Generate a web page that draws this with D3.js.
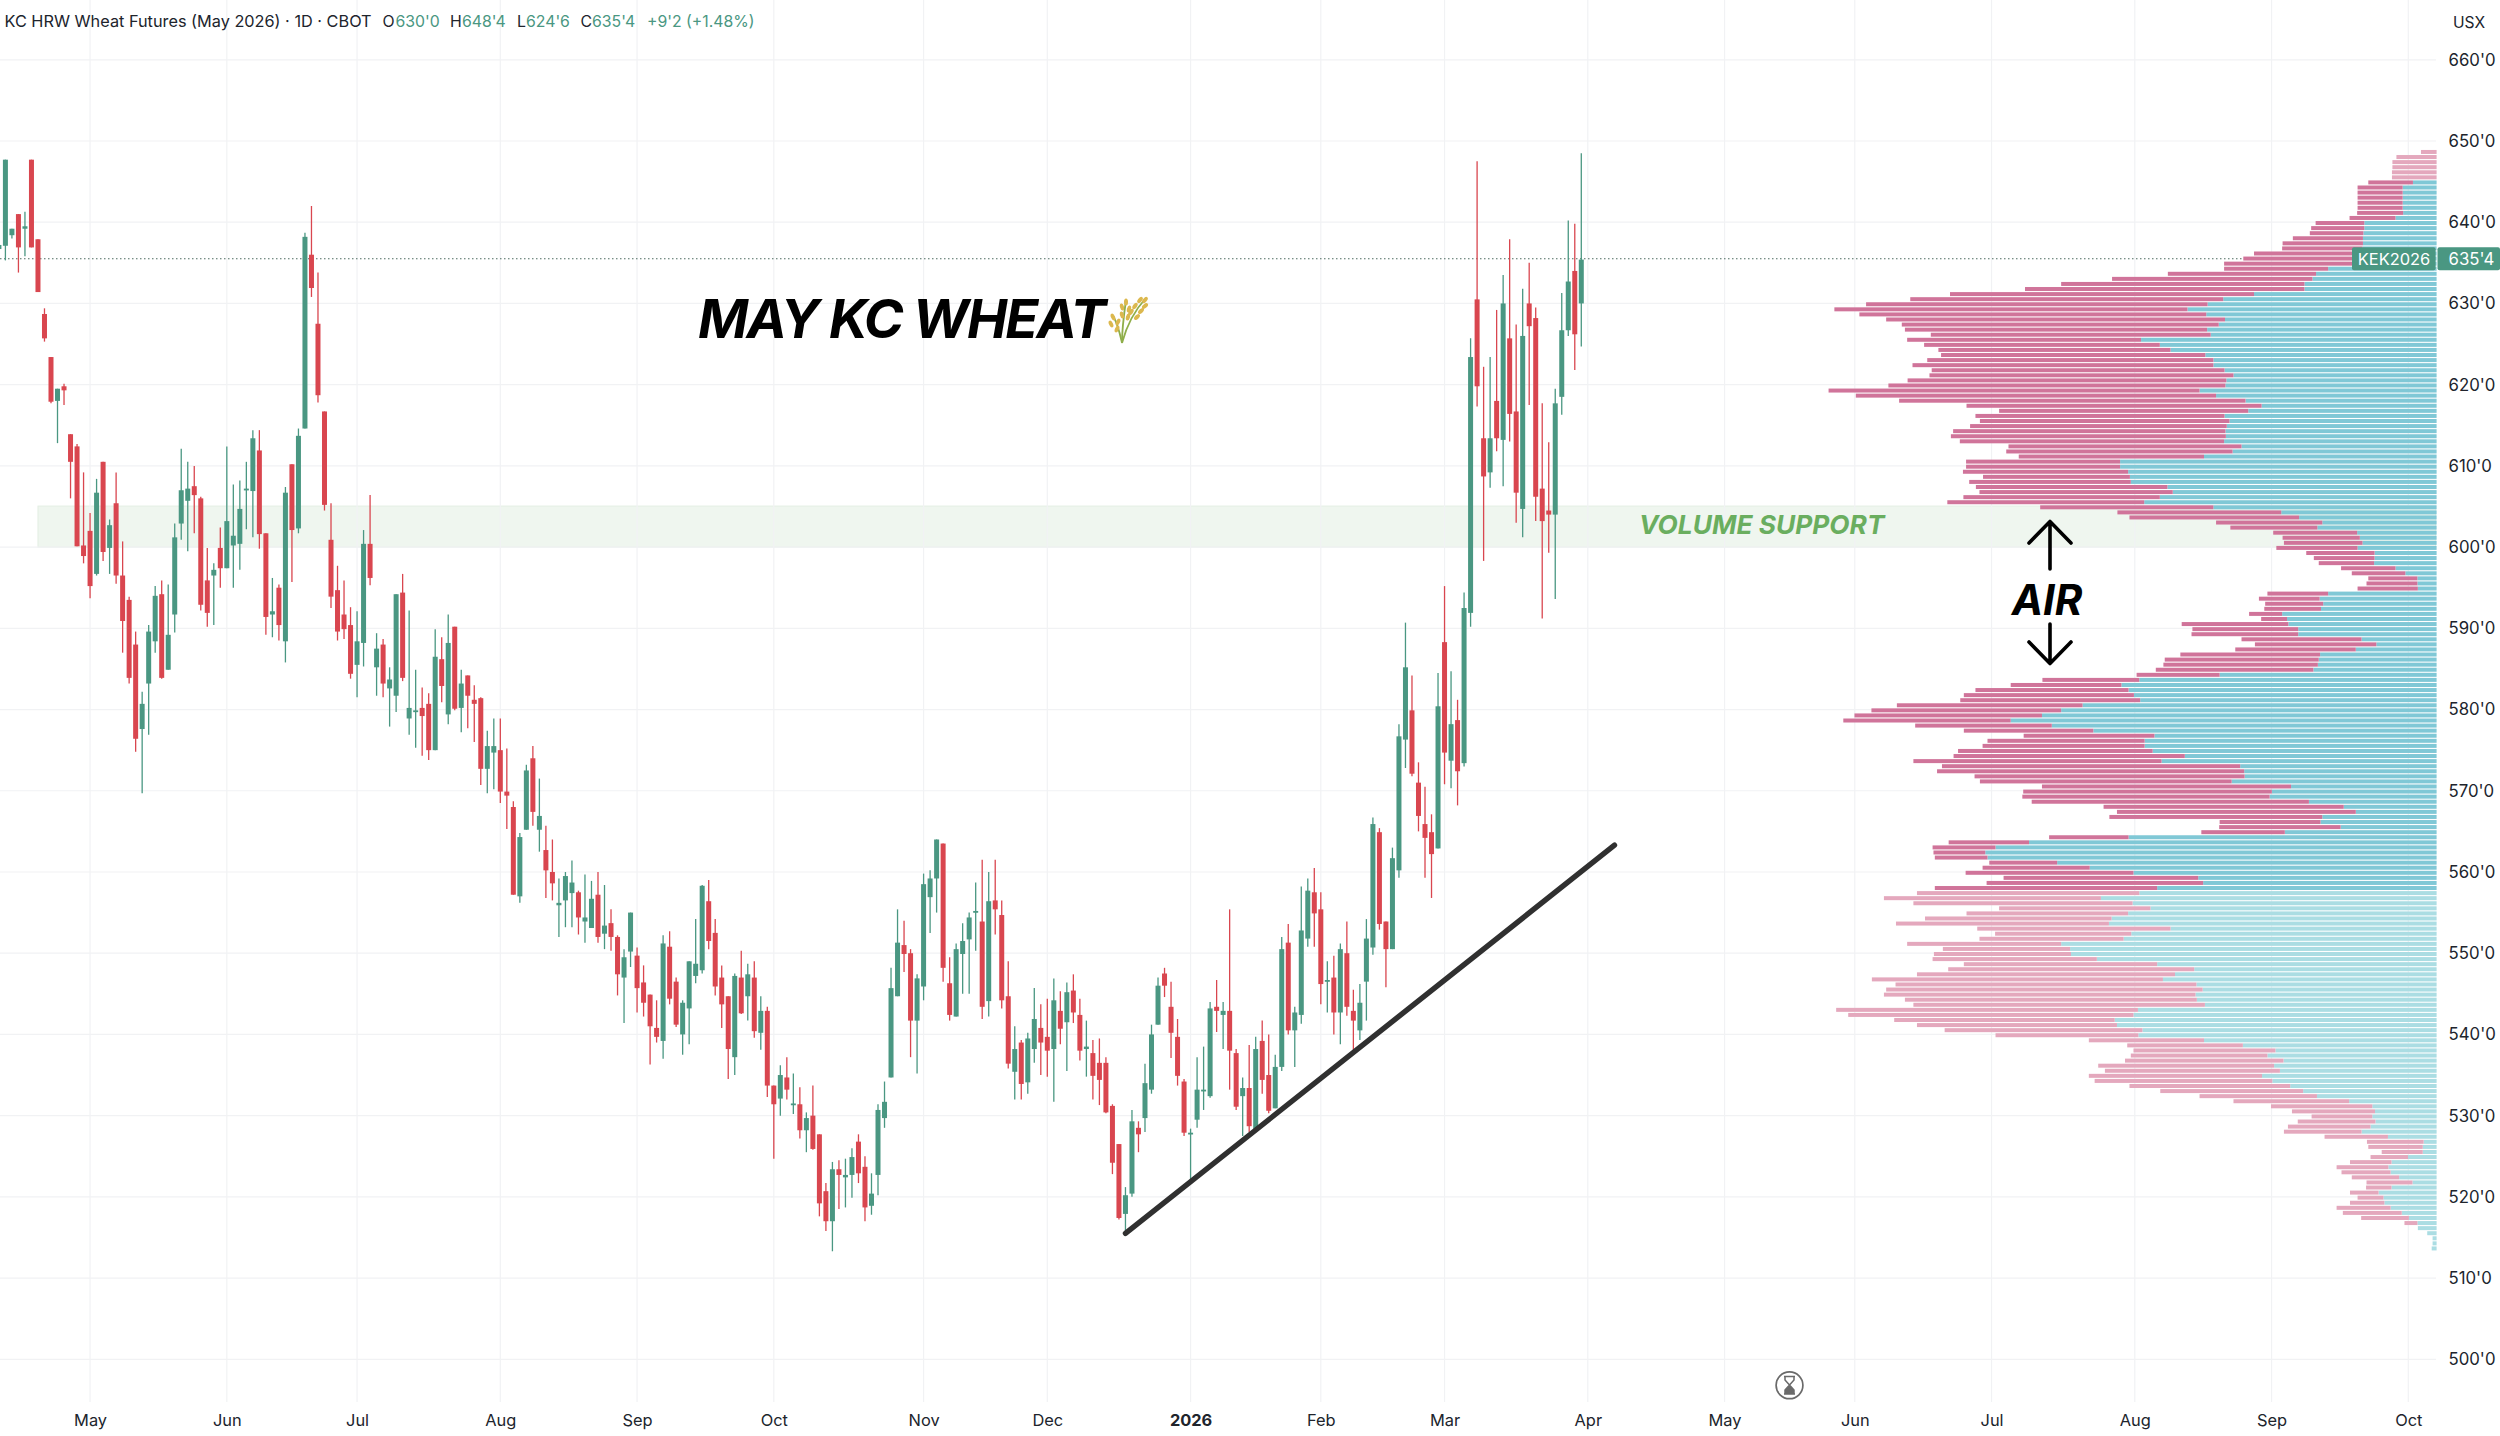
<!DOCTYPE html>
<html><head><meta charset="utf-8">
<script src="https://cdn.jsdelivr.net/npm/d3@7/dist/d3.min.js"></script>
<style>html,body{margin:0;padding:0;background:#fff}svg{display:block}text{font-family:Inter,Roboto,sans-serif}</style>
</head><body><div id="c"></div>
<script>
const opens=[636.7,637.1,638.4,641.0,639.2,647.7,637.9,628.7,623.4,618.0,619.8,613.9,612.4,600.2,602.0,596.7,610.5,599.9,605.4,596.5,593.5,588.0,577.6,583.2,588.4,594.2,584.9,591.7,602.9,605.7,607.5,606.0,595.9,596.5,599.9,597.4,600.2,600.4,607.0,606.9,611.9,601.7,591.7,595.0,588.4,610.2,602.3,614.6,636.0,627.5,
616.7,600.9,594.7,591.7,590.4,585.5,588.2,600.4,585.2,588.0,582.6,581.7,594.4,578.9,579.7,580.2,580.7,575.0,586.2,579.4,590.2,580.2,584.2,581.2,581.4,572.7,574.7,575.0,569.9,568.0,557.0,565.2,574.0,565.2,562.7,560.0,555.9,556.5,557.4,557.5,553.9,553.1,557.2,552.4,553.7,552.0,547.0,550.2,549.7,546.4,
544.9,540.8,539.2,550.8,546.5,540.0,543.2,547.2,547.9,556.4,552.5,547.0,544.7,537.2,547.0,544.7,547.0,540.2,542.9,533.7,532.1,534.7,531.4,531.4,528.2,530.0,527.7,520.7,517.0,523.4,522.4,522.7,526.8,523.7,518.9,522.7,529.7,534.7,544.7,551.0,550.0,541.7,545.9,556.9,559.2,563.5,546.3,542.2,549.9,551.7,
555.0,553.9,544.1,556.5,554.7,544.7,535.4,539.0,534.1,538.2,540.8,539.7,538.2,542.9,541.5,545.4,542.4,538.2,537.7,536.5,536.5,531.2,526.5,517.9,520.4,528.5,529.7,533.2,541.2,547.5,543.4,539.7,534.2,527.7,529.5,533.0,532.4,543.4,542.4,542.9,537.7,532.4,533.4,528.2,539.2,535.0,530.9,536.0,551.3,540.5,
542.4,551.8,557.5,555.4,546.5,547.0,542.7,550.0,542.9,540.5,546.5,550.7,564.9,553.9,550.5,560.2,576.3,579.9,571.0,565.9,564.9,562.9,588.3,573.7,578.7,573.4,591.9,630.5,613.4,609.2,618.0,613.2,625.7,616.7,604.7,630.0,628.2,607.2,604.5,604.0,618.5,626.7,634.0,630.0];
const highs=[637.3,647.7,639.2,641.0,641.3,647.7,637.9,629.4,623.4,619.5,620.1,613.9,612.7,609.2,604.2,608.4,610.5,603.4,609.2,600.7,593.9,589.6,582.2,590.4,595.2,595.9,595.4,602.9,612.1,610.5,610.0,606.2,599.9,598.0,602.4,612.4,607.7,608.2,610.5,614.4,614.4,601.7,596.2,595.4,607.4,610.2,614.6,638.7,642.0,633.8,
616.7,605.4,597.7,595.9,592.6,592.1,602.1,606.4,589.4,588.7,585.2,594.2,596.7,592.2,584.9,582.7,582.0,589.9,588.9,591.7,590.2,584.9,584.2,583.0,581.5,577.4,578.9,578.9,575.2,568.7,564.8,573.2,575.5,571.5,565.7,564.0,559.2,560.0,561.4,557.7,559.7,558.9,560.0,558.4,555.4,552.2,550.5,555.0,550.7,548.5,
544.9,544.2,552.2,552.7,547.0,544.2,549.0,554.2,558.4,559.0,554.2,548.5,544.7,547.5,550.3,548.7,549.0,544.7,543.4,533.7,536.2,537.2,535.2,533.5,530.4,533.7,527.7,521.7,524.3,524.5,524.7,526.0,527.7,525.0,522.9,531.4,534.2,548.2,555.4,554.0,550.5,547.4,559.8,560.2,564.0,563.5,549.5,551.2,553.7,555.0,
558.7,561.5,560.0,561.5,556.5,549.0,541.0,539.3,540.2,545.7,543.7,544.4,546.9,545.3,546.4,547.4,544.4,541.7,539.3,539.5,537.2,531.4,526.5,521.2,530.7,529.3,536.4,541.2,547.0,548.2,546.5,541.9,534.5,528.4,537.2,538.5,544.0,546.7,544.0,555.4,538.2,534.7,538.7,539.7,541.7,540.0,537.5,552.0,553.6,543.4,
558.2,559.2,560.5,557.5,549.0,549.7,551.2,553.9,545.5,546.2,554.2,566.7,565.4,553.9,563.0,578.2,590.7,584.2,573.5,570.5,567.1,584.5,595.2,584.7,581.2,594.4,625.7,647.5,622.2,623.4,629.2,633.5,637.9,627.4,631.8,635.0,629.5,617.7,612.9,619.5,631.3,640.2,639.8,648.5];
const lows=[636.5,635.3,638.0,633.8,635.8,636.9,631.4,625.3,617.7,612.8,617.5,606.0,600.1,598.0,593.7,596.5,598.3,596.7,595.5,587.0,583.2,574.8,569.7,576.9,587.0,583.8,584.9,589.5,600.9,599.5,601.7,592.2,590.2,590.4,595.0,597.4,595.0,597.2,602.2,601.2,599.8,589.2,588.9,588.5,585.8,595.7,601.7,614.6,630.8,617.8,
604.5,592.5,588.5,588.7,583.8,581.5,585.3,595.3,581.7,581.5,577.9,579.7,583.5,576.9,575.3,574.3,573.8,575.0,580.9,578.2,579.9,577.2,577.7,576.0,570.7,569.7,570.2,568.5,565.3,557.2,556.2,565.2,565.7,562.5,556.8,556.5,552.0,553.2,553.2,552.3,551.3,553.1,551.3,550.5,550.3,544.8,541.4,548.3,542.7,542.2,
536.3,539.0,537.0,543.7,540.9,537.5,538.8,546.3,547.5,550.5,544.8,540.8,534.5,535.0,542.5,541.7,539.6,538.1,532.3,524.7,530.0,532.0,530.2,527.2,525.5,525.8,517.6,515.8,513.3,518.5,518.7,519.9,521.7,517.0,517.8,520.2,528.5,534.7,544.7,547.7,537.2,535.2,544.2,552.5,555.0,546.5,541.7,542.2,545.0,545.0,
550.3,541.9,542.2,552.3,543.2,535.8,532.0,532.0,532.7,536.5,535.0,534.8,531.7,538.8,535.5,541.4,536.8,534.8,532.0,531.3,530.3,522.8,517.2,515.5,520.0,525.5,528.0,532.7,541.2,544.6,537.1,533.7,527.5,521.9,528.5,530.7,532.2,540.3,538.2,533.2,530.7,527.5,528.0,528.2,532.7,530.3,530.9,535.5,540.0,536.0,
541.3,550.8,550.8,543.7,542.7,540.0,538.8,542.3,537.7,539.3,541.7,549.8,552.9,545.8,550.5,559.3,572.8,571.8,565.0,559.3,556.8,562.9,570.8,570.3,568.2,573.0,590.2,617.3,598.3,607.3,611.8,607.5,613.0,603.0,601.2,617.5,603.2,591.2,599.3,593.6,616.3,626.0,621.8,624.7];
const closes=[637.2,647.7,639.2,636.9,639.5,636.9,631.4,625.7,617.9,619.5,619.3,610.5,600.1,598.9,595.2,606.7,599.4,602.7,596.5,590.9,583.9,576.4,580.7,589.6,594.0,583.9,589.2,601.2,607.0,607.2,606.4,592.9,591.9,597.2,597.4,603.2,601.4,604.7,607.2,613.4,601.6,591.4,592.1,590.4,606.7,602.1,613.7,638.2,631.9,618.7,
605.2,593.9,589.6,589.9,584.4,588.4,600.4,596.2,587.5,583.2,583.7,594.2,583.9,580.2,579.9,579.2,575.0,586.5,582.9,588.2,580.1,583.2,581.7,580.7,572.7,575.5,575.5,569.9,569.4,557.2,564.3,572.5,567.4,566.9,560.2,558.6,556.2,559.5,558.7,554.4,554.4,556.7,552.0,553.4,552.0,547.4,549.5,555.0,545.7,543.9,
541.0,539.7,551.2,544.4,541.2,543.9,549.0,548.7,558.3,551.5,545.9,543.7,538.2,547.2,542.6,547.4,540.4,542.9,533.7,531.4,535.0,533.2,531.5,528.2,529.7,525.9,519.2,517.0,523.4,522.7,522.7,524.9,522.9,518.7,520.4,530.7,531.7,545.7,551.3,549.9,541.7,546.9,558.5,559.2,564.0,548.2,542.4,550.5,551.5,554.4,
555.2,543.4,556.4,555.4,544.2,536.4,538.2,533.9,539.5,541.9,539.0,538.0,544.2,540.7,545.2,542.7,538.0,538.5,534.9,534.4,530.4,524.2,517.4,520.2,529.3,527.7,534.0,540.0,546.0,546.0,540.2,534.9,527.9,527.9,533.2,533.2,543.2,542.9,542.9,538.0,531.1,533.4,528.7,538.2,534.4,530.6,536.0,550.5,540.5,542.7,
552.8,557.7,554.9,546.2,546.7,542.7,550.5,543.4,541.7,543.9,551.8,565.9,553.6,550.5,561.7,576.7,585.2,572.1,566.9,564.2,562.2,580.4,574.7,578.2,572.4,592.5,623.4,619.8,608.7,613.4,613.4,630.0,616.4,606.7,626.0,627.2,606.2,603.2,604.0,617.7,626.7,632.7,626.2,635.4];

// volume profile: bar lengths in arbitrary units, top row first
const downVol=[35,90,99,99,100,100,100,101,101,101,101,101,103,103,109,119,120,157,180,180,223,247,290,233,332,449,545,626,681,701,765,791,777,759,710,677,627,524,528,520,592,641,674,656,681,714,755,831,807,776,661,558,558,559,575,610,616,592,522,507,415,345,345,370,329,362,429,433,440,441,388,367,380,238,195,188,173,176,182,153,136,
124,122,120,110,114,135,136,136,130,127,74,58,239,237,239,269,272,270,313,345,346,353,186,217,248,343,381,403,416,425,420,375,306,290,293,352,363,436,518,556,668,688,605,564,558,557,554,621,538,535,477,226,272,187,178,180,141,116,118,152,240,376,436,
485,498,498,486,491,339,362,418,477,433,305,323,345,285,307,368,433,551,578,652,674,709,698,654,653,676,639,494,448,443,320,258,259,318,306,355,394,392,388,398,360,320,263,259,227,186,136,174,185,174,142,127,122,92,84,93,116,110,106,103,57,64,58,77,121,132,107,29,0,0,0,0,0];
const upVol=[0,0,0,0,0,0,53,76,76,76,76,76,75,92,162,162,164,165,165,166,186,186,186,243,270,278,296,296,409,478,513,558,516,474,488,514,506,662,620,596,518,500,500,475,455,471,473,531,494,428,392,422,475,464,470,473,472,476,437,457,521,709,709,691,687,685,603,591,620,655,500,348,308,256,267,178,172,166,177,139,139,
140,92,70,43,43,42,243,262,254,259,346,335,332,310,310,168,135,181,261,264,266,276,486,666,706,690,678,664,793,841,884,954,862,769,632,654,654,636,564,616,440,431,430,459,326,369,374,286,208,181,256,260,215,340,690,913,988,1011,1006,850,777,679,534,
523,626,666,752,681,641,691,728,734,596,684,701,841,821,819,761,626,543,586,613,538,524,540,537,519,669,679,721,716,659,668,521,434,361,379,343,364,351,391,368,328,299,268,196,144,138,144,137,148,168,109,29,31,31,64,101,108,103,84,54,101,130,119,117,103,78,62,43,42,21,9,9,11];
const profileTop=648.65, profileStep=0.625, vaHigh=645, vaLow=557.7;

const priceTicks=d3.range(500,661,10);
const monthIdx=[14,35,55,77,98,119,142,161,183,203,222,244,265,285,306,328,349,370];
const monthLbl=["May","Jun","Jul","Aug","Sep","Oct","Nov","Dec","2026","Feb","Mar","Apr","May","Jun","Jul","Aug","Sep","Oct"];
const zone={start:6,end:374.2,lo:600,hi:605.05};
const trend=[[173,515.5],[248.1,563.3]];
const last=635.5;

const W=2500,H=1436,GREEN="#4a9782",RED="#d9464f";
const svg=d3.select("#c").append("svg").attr("width",W).attr("height",H).attr("viewBox",`0 0 ${W} ${H}`);
const x=d3.scaleLinear().domain([0,244]).range([-1.1,1587.8]);
const y=d3.scaleLinear().domain([650,500]).range([141,1359.3]);
const PANE_R=2436, PANE_B=1402;

// zone
svg.append("rect").attr("x",x(zone.start)).attr("width",x(zone.end)-x(zone.start)).attr("y",y(zone.hi)).attr("height",y(zone.lo)-y(zone.hi)).attr("fill","#eff6ef").attr("stroke","#e3efe3").attr("stroke-width",1);

// grid
const grid=svg.append("g");
grid.selectAll("line.v").data(monthIdx).join("line").attr("class","v").attr("x1",d=>x(d)).attr("x2",d=>x(d)).attr("y1",0).attr("y2",PANE_B).attr("stroke","#f1f2f4").attr("stroke-width",1.2);
grid.selectAll("line.h").data(priceTicks).join("line").attr("class","h").attr("x1",0).attr("x2",PANE_R).attr("y1",d=>y(d)).attr("y2",d=>y(d)).attr("stroke","#f1f2f4").attr("stroke-width",1.2);

// price line
svg.append("line").attr("x1",0).attr("x2",2352).attr("y1",y(last)).attr("y2",y(last)).attr("stroke","#4d6b60").attr("stroke-width",1.2).attr("stroke-dasharray","1.5 2.5");

// volume profile
const vol=d3.scaleLinear().domain([0,1426]).range([0,636.6]);
const rows=d3.range(downVol.length).map(k=>({p:profileTop-profileStep*k,up:upVol[k],down:downVol[k]}));
const rowH=4, inVA=d=>d.p<=vaHigh&&d.p>=vaLow;
const vp=svg.append("g");
vp.selectAll("rect.u").data(rows).join("rect").attr("class","u").attr("x",d=>PANE_R+.6-vol(d.up)).attr("width",d=>vol(d.up)).attr("y",d=>y(d.p)-rowH/2).attr("height",rowH).attr("fill",d=>inVA(d)?"#80c8d6":"#abdde3");
vp.selectAll("rect.d").data(rows).join("rect").attr("class","d").attr("x",d=>PANE_R+.6-vol(d.up)-vol(d.down)).attr("width",d=>vol(d.down)).attr("y",d=>y(d.p)-rowH/2).attr("height",rowH).attr("fill",d=>inVA(d)?"#d0749a":"#e4a8bd");

// candles
const bars=opens.map((o,i)=>({i,o,h:highs[i],l:lows[i],c:closes[i]}));
const cg=svg.append("g");
cg.selectAll("line").data(bars).join("line").attr("x1",d=>x(d.i)).attr("x2",d=>x(d.i)).attr("y1",d=>y(d.h)).attr("y2",d=>y(d.l)).attr("stroke",d=>d.c>=d.o?GREEN:RED).attr("stroke-width",1.3);
cg.selectAll("rect").data(bars).join("rect").attr("x",d=>x(d.i)-2.5).attr("width",5).attr("y",d=>y(Math.max(d.o,d.c))).attr("height",d=>Math.max(1.8,Math.abs(y(d.o)-y(d.c)))).attr("fill",d=>d.c>=d.o?GREEN:RED);

// trend line
svg.append("path").attr("d",d3.line().x(d=>x(d[0])).y(d=>y(d[1]))(trend)).attr("stroke","#303030").attr("stroke-width",5.4).attr("stroke-linecap","round").attr("fill","none");

// axes
const ya=svg.append("g").attr("transform","translate(2448.5,0)").call(d3.axisRight(y).tickValues(priceTicks).tickSize(0).tickPadding(0).tickFormat(d=>`${d}'0`));
ya.select(".domain").remove();
ya.selectAll("text").attr("font-family","Inter").attr("font-size",16.8).attr("fill","#20242c");
const xa=svg.append("g").attr("transform","translate(0,1414)").call(d3.axisBottom(x).tickValues(monthIdx).tickSize(0).tickPadding(0).tickFormat((d,i)=>monthLbl[i]));
xa.select(".domain").remove();
xa.selectAll("text").attr("font-family","Inter").attr("font-size",16.4).attr("fill","#20242c").attr("font-weight",(d,i)=>monthLbl[i]==="2026"?700:400);

// price tag
svg.append("rect").attr("x",2352).attr("y",y(last)-11.5).attr("width",83.6).attr("height",23).attr("rx",2).attr("fill",GREEN);
svg.append("rect").attr("x",2437.5).attr("y",y(last)-11.5).attr("width",62.5).attr("height",23).attr("rx",2).attr("fill",GREEN);
svg.append("text").attr("x",2394).attr("y",y(last)+6).attr("text-anchor","middle").attr("fill","#fff").attr("font-size",16.4).text("KEK2026");
svg.append("text").attr("x",2448.5).attr("y",y(last)+6).attr("fill","#fff").attr("font-size",16.8).text("635'4");

// header
const hdr=[["KC HRW Wheat Futures (May 2026) · 1D · CBOT",4.5,"#20242c"],["O",382.5,"#20242c"],["630'0",395.5,GREEN],["H",450,"#20242c"],["648'4",462,GREEN],["L",517,"#20242c"],["624'6",526,GREEN],["C",580.5,"#20242c"],["635'4",592,GREEN],["+9'2 (+1.48%)",647,GREEN]];
svg.append("g").selectAll("text").data(hdr).join("text").attr("x",d=>d[1]).attr("y",27).attr("font-size",(d,i)=>i===0?16.3:15.8).attr("fill",d=>d[2]).text(d=>d[0]);
svg.append("text").attr("x",2469).attr("y",28).attr("text-anchor","middle").attr("font-size",15.6).attr("fill","#20242c").text("USX");

// annotations
svg.append("text").attr("x",698).attr("y",338).attr("font-size",54).attr("font-weight",700).attr("font-style","italic").attr("letter-spacing",-1.9).attr("fill","#000").text("MAY KC WHEAT");
svg.append("text").attr("x",1639).attr("y",534).attr("font-size",26.3).attr("font-weight",700).attr("font-style","italic").attr("fill","#6aae5f").text("VOLUME SUPPORT");
svg.append("text").attr("x",2047).attr("y",614.5).attr("text-anchor","middle").attr("font-size",42).attr("font-weight",700).attr("font-style","italic").attr("fill","#000").text("AIR");
const arrow=(d)=>svg.append("path").attr("d",d).attr("fill","none").attr("stroke","#000").attr("stroke-width",3.6).attr("stroke-linecap","round").attr("stroke-linejoin","round");
arrow("M2050 569V521.5M2029 543L2050 521.5L2071 543");
arrow("M2050 624V663.5M2029 642L2050 663.5L2071 642");

// wheat
const wh=svg.append("g");
const stems=["M1122 343C1126 328 1133 312 1146 298","M1122 343C1122 328 1124 314 1126 300","M1122 343C1120 334 1118 324 1113 316"];
wh.selectAll("path").data(stems).join("path").attr("d",d=>d).attr("fill","none").attr("stroke","#8fae4a").attr("stroke-width",1.8);
const grains=[[1145,300,40],[1140,300,40],[1145,306,50],[1135,306,35],[1141,311,45],[1131,312,35],[1137,317,45],[1126,302,0],[1122,307,-15],[1129,309,15],[1122,315,-15],[1128,317,15],[1113,317,-25],[1118,322,25],[1111,324,-25],[1117,329,25]];
wh.selectAll("ellipse").data(grains).join("ellipse").attr("rx",2).attr("ry",3.6).attr("transform",d=>`translate(${d[0]},${d[1]}) rotate(${d[2]})`).attr("fill","#dcb84e");

// hourglass
svg.append("circle").attr("cx",1789.5).attr("cy",1385.3).attr("r",13.4).attr("fill","#fff").attr("stroke","#6a6a6a").attr("stroke-width",1.7);
svg.append("path").attr("d","M1784 1376.5H1795M1784 1394H1795M1785 1377V1380L1789.5 1385L1785 1390V1394H1794V1390L1789.5 1385L1794 1380V1377").attr("fill","none").attr("stroke","#6a6a6a").attr("stroke-width",1.5);
svg.append("path").attr("d","M1789.5 1385.5L1794 1390V1394H1785V1390Z").attr("fill","#6a6a6a");
</script></body></html>
